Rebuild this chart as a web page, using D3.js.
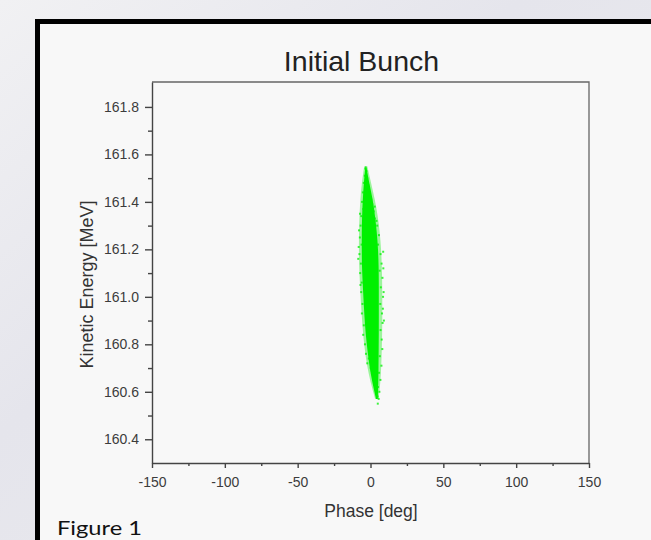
<!DOCTYPE html>
<html>
<head>
<meta charset="utf-8">
<script src="https://cdn.jsdelivr.net/npm/d3@7"></script>
<style>
  body { margin: 0; background: #e9e9ee; }
  svg { display: block; }
  .axis path, .axis line { stroke: #444; stroke-width: 1.4; }
  .axis text { font-family: "Liberation Sans", Arial, sans-serif; font-size: 14px; fill: #3c3c3c; }
</style>
</head>
<body>
<div id="chart"></div>
<script>
// Tick values
var xTicks = [-150, -100, -50, 0, 50, 100, 150];
var xMinor = [-125, -75, -25, 25, 75, 125];
var yTicks = [160.4, 160.6, 160.8, 161.0, 161.2, 161.4, 161.6, 161.8];
var yMinor = [160.5, 160.7, 160.9, 161.1, 161.3, 161.5, 161.7];

// Bunch envelope, read slice by slice (energy in MeV, phase in deg)
var energyLevels = [161.55, 161.48, 161.41, 161.34, 161.27, 161.20, 161.13, 161.06, 160.99, 160.92, 160.85, 160.78, 160.71, 160.64, 160.57];
var coreLeft  = [-3.5, -4.6, -5.3, -5.8, -6.0, -6.0, -5.9, -5.4, -4.8, -4.2, -3.4, -2.2, -0.8, 1.2, 3.8];
var coreRight = [-2.9, -0.9, 1.6, 3.1, 4.4, 5.2, 5.6, 5.7, 5.7, 5.7, 5.7, 5.6, 5.5, 5.4, 5.0];
var haloLeft  = [-4.3, -6.0, -7.0, -7.6, -7.9, -8.0, -7.8, -7.3, -6.7, -6.0, -5.2, -4.0, -2.4, 0.0, 3.2];
var haloRight = [-2.2, 0.4, 3.0, 5.0, 6.4, 7.3, 7.8, 8.0, 8.1, 8.1, 8.0, 7.8, 7.4, 6.8, 5.6];

// Loose particles at the edges
var speckPhase = [-3.5, -2.8, -3.9, -2.3, -4.6, -1.5, -3.2, -5.2, -0.6, -4.0, 0.5, -5.8, 1.2, -4.9, 2.2, -6.3, 3.0,
  -6.8, -7.3, -6.1, -7.6, -6.6, -7.1, -6.0, -6.4, -5.5, -5.9, -4.6, -5.0, -3.8, -3.1, -2.2,
  4.6, 5.8, 5.2, 6.9, 7.6, 6.3, 8.2, 7.1, 8.6, 6.7, 7.9, 8.3, 6.9, 7.7, 8.1, 6.4, 7.5,
  0.8, 5.9, 2.4, 6.8, 3.6, 5.2, 4.4, 6.1, 4.9, 5.6, 5.0,
  -8.1, -8.4, -7.9, -7.2, -6.9, 8.8, 9.0, 8.5, 9.2, 8.7, -1.2, 0.2, 1.8, 2.9, 4.1];
var speckEnergy = [161.54, 161.53, 161.51, 161.50, 161.48, 161.47, 161.46, 161.44, 161.44, 161.42, 161.41, 161.40, 161.39, 161.37, 161.36, 161.34, 161.33,
  161.30, 161.25, 161.22, 161.18, 161.14, 161.10, 161.06, 161.02, 160.97, 160.93, 160.88, 160.84, 160.80, 160.76, 160.72,
  161.30, 161.26, 161.22, 161.18, 161.14, 161.11, 161.08, 161.04, 161.00, 160.97, 160.93, 160.89, 160.86, 160.82, 160.78, 160.75, 160.71,
  160.69, 160.68, 160.66, 160.65, 160.63, 160.62, 160.60, 160.60, 160.58, 160.57, 160.55,
  161.21, 161.16, 161.28, 161.35, 161.05, 161.12, 161.02, 160.95, 160.90, 161.19, 160.74, 160.70, 160.67, 161.38, 161.32];

var W = 651, H = 540;
var plot = {left: 152, right: 589, top: 82, bottom: 463};

var svg = d3.select("#chart").append("svg")
    .attr("width", W)
    .attr("height", H);

// slide background
var grad = svg.append("defs").append("linearGradient")
    .attr("id", "bg").attr("x1", 0).attr("y1", 0).attr("x2", 1).attr("y2", 1);
grad.append("stop").attr("offset", "0%").attr("stop-color", "#f1f1f3");
grad.append("stop").attr("offset", "40%").attr("stop-color", "#e5e5ec");
grad.append("stop").attr("offset", "100%").attr("stop-color", "#ececee");
svg.append("rect").attr("width", W).attr("height", H).attr("fill", "url(#bg)");

// figure box
svg.append("rect")
    .attr("x", 37.5).attr("y", 21.5)
    .attr("width", W).attr("height", H)
    .attr("fill", "#f8f8f8")
    .attr("stroke", "#000")
    .attr("stroke-width", 5);

var x = d3.scaleLinear().domain([-150, 150]).range([plot.left, plot.right]);
var y = d3.scaleLinear().domain([160.3, 161.905]).range([plot.bottom, plot.top]);

// title
svg.append("text")
    .attr("x", 361.5).attr("y", 71)
    .attr("text-anchor", "middle")
    .style("font-family", "'Liberation Sans', Arial, sans-serif")
    .style("font-size", "28.5px")
    .attr("fill", "#222")
    .text("Initial Bunch");

// frame top + right
svg.append("path")
    .attr("d", "M" + plot.left + "," + plot.top + "H" + plot.right + "V" + plot.bottom)
    .attr("fill", "none")
    .attr("stroke", "#666")
    .attr("stroke-width", 1.3);

// bunch
var halo = d3.area()
    .curve(d3.curveBasis)
    .y(function(d, i) { return y(energyLevels[i]); })
    .x0(function(d, i) { return x(haloLeft[i]); })
    .x1(function(d, i) { return x(haloRight[i]); });
var core = d3.area()
    .curve(d3.curveBasis)
    .y(function(d, i) { return y(energyLevels[i]); })
    .x0(function(d, i) { return x(coreLeft[i]); })
    .x1(function(d, i) { return x(coreRight[i]); });

var g = svg.append("g");
g.append("path").datum(energyLevels).attr("d", halo).attr("fill", "#2cf02c").attr("opacity", 0.45);
g.append("path").datum(energyLevels).attr("d", core).attr("fill", "#00f000");

g.selectAll("rect.speck")
    .data(speckPhase)
  .enter().append("rect")
    .attr("class", "speck")
    .attr("x", function(d) { return x(d) - 1; })
    .attr("y", function(d, i) { return y(speckEnergy[i]) - 1; })
    .attr("width", 2)
    .attr("height", 2)
    .attr("fill", "#00f000")
    .attr("opacity", 0.75);

// axes
var xAxis = d3.axisBottom(x).tickValues(xTicks).tickSize(5).tickSizeOuter(0).tickPadding(9)
    .tickFormat(function(d) { return String(d); });
svg.append("g")
    .attr("class", "axis")
    .attr("transform", "translate(0," + plot.bottom + ")")
    .call(xAxis);
svg.append("g")
    .attr("class", "axis")
    .attr("transform", "translate(0," + plot.bottom + ")")
    .call(d3.axisBottom(x).tickValues(xMinor).tickSize(3).tickSizeOuter(0).tickFormat(""))
    .select(".domain").remove();

var yAxis = d3.axisLeft(y).tickValues(yTicks).tickSize(7).tickSizeOuter(0).tickPadding(6)
    .tickFormat(d3.format(".1f"));
svg.append("g")
    .attr("class", "axis")
    .attr("transform", "translate(" + plot.left + ",0)")
    .call(yAxis);
svg.append("g")
    .attr("class", "axis")
    .attr("transform", "translate(" + plot.left + ",0)")
    .call(d3.axisLeft(y).tickValues(yMinor).tickSize(4).tickSizeOuter(0).tickFormat(""))
    .select(".domain").remove();

// axis titles
svg.append("text")
    .attr("x", 371).attr("y", 517)
    .attr("text-anchor", "middle")
    .style("font-family", "'Liberation Sans', Arial, sans-serif")
    .style("font-size", "17.5px")
    .attr("fill", "#333")
    .text("Phase [deg]");

svg.append("text")
    .attr("transform", "translate(93,284.5) rotate(-90)")
    .attr("text-anchor", "middle")
    .style("font-family", "'Liberation Sans', Arial, sans-serif")
    .style("font-size", "18px")
    .attr("fill", "#333")
    .text("Kinetic Energy [MeV]");

// caption
svg.append("text")
    .attr("x", 57).attr("y", 535)
    .attr("textLength", 85)
    .attr("lengthAdjust", "spacingAndGlyphs")
    .style("font-family", "Lato, 'Open Sans', sans-serif")
    .style("font-size", "20px")
    .attr("fill", "#111")
    .text("Figure 1");
</script>
</body>
</html>
